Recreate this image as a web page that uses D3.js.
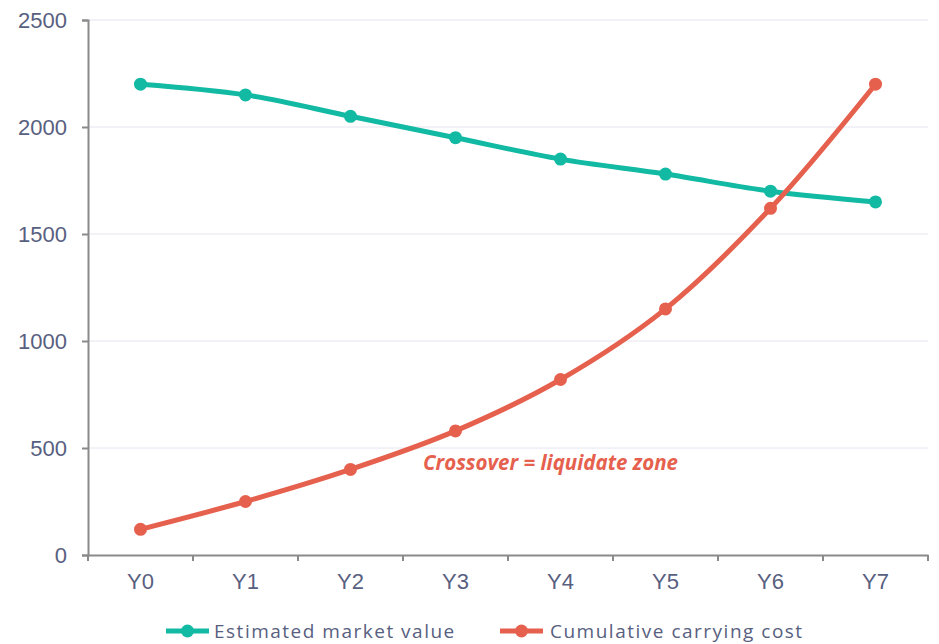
<!DOCTYPE html>
<html>
<head>
<meta charset="utf-8">
<script src="https://cdn.jsdelivr.net/npm/d3@7"></script>
<style>
  body { margin: 0; background: #fff; }
  svg { display: block; }
</style>
</head>
<body>
<svg id="chart"></svg>
<script>
// --------------------
//  data
// --------------------
const years = ["Y0", "Y1", "Y2", "Y3", "Y4", "Y5", "Y6", "Y7"];
const marketValue = [2200, 2150, 2050, 1950, 1850, 1780, 1700, 1650];
const carryingCost = [120, 250, 400, 580, 820, 1150, 1620, 2200];
const yTicks = [0, 500, 1000, 1500, 2000, 2500];
const seriesNames = ["Estimated market value", "Cumulative carrying cost"];
const colors = ["#12B9A3", "#E6604E"];

// --------------------
//  chart
// --------------------
const width = 939;
const height = 644;
const margin = {top: 20, right: 11, bottom: 89, left: 88};

const svg = d3.select("#chart")
    .attr("width", width)
    .attr("height", height);

const x = d3.scaleBand()
    .domain(years)
    .range([margin.left, width - margin.right]);

const y = d3.scaleLinear()
    .domain([0, 2500])
    .range([height - margin.bottom, margin.top]);

// grid
svg.append("g")
    .selectAll("line")
    .data(yTicks.filter(d => d > 0))
    .join("line")
    .attr("x1", margin.left)
    .attr("x2", width - margin.right)
    .attr("y1", d => y(d))
    .attr("y2", d => y(d))
    .attr("stroke", "#e4e4ef")
    .attr("stroke-width", 1);

// y axis
const yAxis = svg.append("g")
    .attr("transform", `translate(${margin.left},0)`)
    .call(d3.axisLeft(y).tickValues(yTicks).tickFormat(d3.format("d")).tickSize(6).tickPadding(15));
// x axis
const xAxis = svg.append("g")
    .attr("transform", `translate(0,${height - margin.bottom})`)
    .call(d3.axisBottom(x).tickSize(0).tickPadding(18));
// tick marks between categories
xAxis.selectAll(".sep")
    .data(years.concat(["end"]))
    .join("line")
    .attr("class", "sep")
    .attr("x1", (d, i) => margin.left + i * x.step())
    .attr("x2", (d, i) => margin.left + i * x.step())
    .attr("y1", 0)
    .attr("y2", 6)
    .attr("stroke", "#8a8a8a")
    .attr("stroke-width", 2);

[yAxis, xAxis].forEach(g => {
    g.select(".domain").attr("stroke", "#8a8a8a").attr("stroke-width", 2);
    g.selectAll(".tick line").attr("stroke", "#8a8a8a").attr("stroke-width", 2);
    g.selectAll("text")
        .attr("fill", "#586080")
        .attr("font-family", "Liberation Sans, Arial, sans-serif")
        .attr("font-size", "22px");
});

// lines
const line = d3.line()
    .x((d, i) => x(years[i]) + x.bandwidth() / 2)
    .y(d => y(d))
    .curve(d3.curveCatmullRom.alpha(0.5));

[marketValue, carryingCost].forEach((series, k) => {
    svg.append("path")
        .datum(series)
        .attr("d", line)
        .attr("fill", "none")
        .attr("stroke", colors[k])
        .attr("stroke-width", 5)
        .attr("stroke-linecap", "round");
    svg.append("g")
        .selectAll("circle")
        .data(series)
        .join("circle")
        .attr("cx", (d, i) => x(years[i]) + x.bandwidth() / 2)
        .attr("cy", d => y(d))
        .attr("r", 6.5)
        .attr("fill", colors[k]);
});

// annotation
svg.append("text")
    .attr("x", 423)
    .attr("y", y(500) + 22)
    .attr("font-family", "Open Sans, sans-serif")
    .attr("font-size", "20.5px")
    .attr("font-weight", "bold")
    .attr("font-style", "italic")
    .attr("fill", colors[1])
    .text("Crossover = liquidate zone");

// legend
const legendX = [166, 500];
const legend = svg.append("g")
    .selectAll("g")
    .data(seriesNames)
    .join("g")
    .attr("transform", (d, i) => `translate(${legendX[i]},631)`);
legend.append("line")
    .attr("x1", 0).attr("x2", 43)
    .attr("stroke", (d, i) => colors[i])
    .attr("stroke-width", 5);
legend.append("circle")
    .attr("cx", 21.5).attr("r", 6.5)
    .attr("fill", (d, i) => colors[i]);
legend.append("text")
    .attr("x", (d, i) => i === 0 ? 48 : 50)
    .attr("y", 7)
    .attr("font-family", "Open Sans, sans-serif")
    .attr("font-size", "19px")
    .attr("letter-spacing", "1.5px")
    .attr("fill", "#586080")
    .text(d => d);
</script>
</body>
</html>
